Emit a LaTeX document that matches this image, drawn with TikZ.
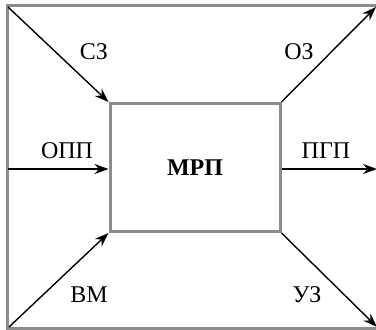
\documentclass[tikz,border=0pt]{standalone}
\usepackage{fontspec}
\setmainfont{Liberation Serif}
\usetikzlibrary{arrows.meta}
\usetikzlibrary{positioning}

\tikzset{
  frame/.style={draw=black!45, line width=3pt},
  flow/.style={-{Stealth[length=14pt,width=10pt]}, line width=1.4pt}
}

\begin{document}
\begin{tikzpicture}[x=1pt, y=-1pt, font=\fontsize{24}{28}\selectfont]
    \useasboundingbox (0,0) rectangle (376,330);
    % outer field, its right side runs off the page
    \draw[frame] (7.5,5.5) rectangle (392,328.5);
    \node[frame, minimum width=170pt, minimum height=128pt, inner sep=0pt]
      (mrp) at (195,167.5) {\textbf{МРП}};
    \coordinate (nw) at (8,7); \coordinate (w) at (8.5,169);
    \coordinate (sw) at (9,327); \coordinate (ne) at (376,7);
    \coordinate (e) at (377,169); \coordinate (se) at (377,327);
    % inputs
    \draw[flow] (nw) -- (mrp.north west);
    \draw[flow] (w) -- (w -| mrp.west);
    \draw[flow] (sw) -- (mrp.south west);
    % outputs
    \draw[flow] (mrp.north east) -- (ne);
    \draw[flow] (e -| mrp.east) -- (e);
    \draw[flow] (mrp.south east) -- (se);
    \node (sz) at (94,52) {СЗ}; \node (oz) at (299,52) {ОЗ};
    \node (opp) at (67,151) {ОПП}; \node (pgp) at (326,151) {ПГП};
    \node (vm) at (89,295) {ВМ}; \node (uz) at (307,295) {УЗ};
\end{tikzpicture}
\end{document}
